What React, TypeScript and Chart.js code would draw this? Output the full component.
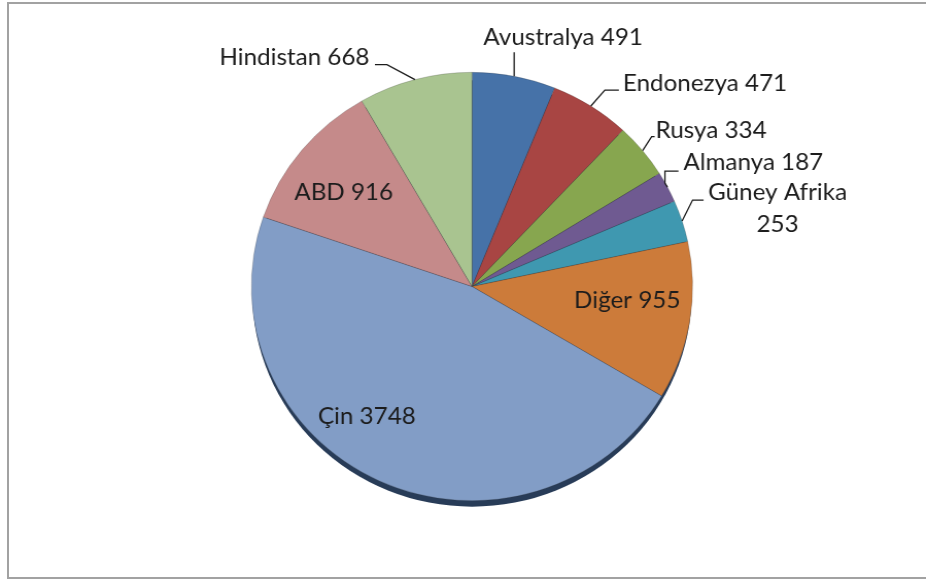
import React, { useEffect, useRef } from "react";
import { Chart, registerables } from "chart.js";

Chart.register(...registerables);

// ---- data ----
const categories = ["Avustralya", "Endonezya", "Rusya", "Almanya", "Güney Afrika", "Diğer", "Çin", "ABD", "Hindistan"];
const values = [491, 471, 334, 187, 253, 955, 3748, 916, 668];
const colors = ["#4672A8", "#A84543", "#87A64F", "#6F5A91", "#3F98B0", "#CC7B3A", "#829DC6", "#C58A8A", "#A9C490"];

// ---- label layout (offsets from the slice's outer edge at its mid angle, in page px) ----
type LabelStyle = {
  dx: number;
  dy: number;
  align: CanvasTextAlign;
  wrap?: boolean;
  leader?: [number, number][];
};
const labelStyles: LabelStyle[] = [
  { dx: 49, dy: -31, align: "center", leader: [[0, -24]] },
  { dx: 32, dy: -15, align: "left", leader: [[14, -16], [28, -16]] },
  { dx: 13, dy: -13, align: "left", leader: [[9, -14], [12, -14]] },
  { dx: 16, dy: -17, align: "left", leader: [[-2.5, -4], [-2.5, -16], [11, -16]] },
  { dx: 95.5, dy: -21, align: "center", wrap: true, leader: [[10.5, -21], [21.5, -21]] },
  { dx: -62.5, dy: -13.3, align: "center" },
  { dx: -12.5, dy: -56.4, align: "center" },
  { dx: 42, dy: 50, align: "center" },
  { dx: -45.5, dy: -14.3, align: "right", leader: [[-28, -15], [-40, -15]] },
];

const K = 1.03; // horizontal stretch of the original picture

const labelPlugin = {
  id: "sliceLabels",
  beforeDatasetsDraw(chart: any) {
    const meta = chart.getDatasetMeta(0);
    const el = meta.data[0];
    if (!el) return;
    const { x, y, outerRadius } = el.getProps(["x", "y", "outerRadius"], true);
    const ctx = chart.ctx;
    ctx.save();
    ctx.beginPath();
    ctx.arc(x, y + 7, outerRadius - 1, 0, Math.PI * 2);
    ctx.fillStyle = "#283c58";
    ctx.fill();
    ctx.restore();
  },
  afterDatasetsDraw(chart: any) {
    const ctx = chart.ctx;
    const meta = chart.getDatasetMeta(0);
    ctx.save();
    ctx.font = "23.5px Lato";
    ctx.fillStyle = "#1c1c1c";
    ctx.strokeStyle = "#1c1c1c";
    ctx.lineWidth = 1.3;
    ctx.textBaseline = "alphabetic";
    meta.data.forEach((el: any, i: number) => {
      const { x, y, startAngle, endAngle, outerRadius } = el.getProps(
        ["x", "y", "startAngle", "endAngle", "outerRadius"],
        true
      );
      const mid = (startAngle + endAngle) / 2;
      const ex = x + outerRadius * Math.cos(mid);
      const ey = y + outerRadius * Math.sin(mid);
      const s = labelStyles[i];
      if (s.leader) {
        ctx.beginPath();
        ctx.moveTo(ex, ey);
        s.leader.forEach(([dx, dy]) => ctx.lineTo(ex + dx / K, ey + dy));
        ctx.stroke();
      }
      const lines = s.wrap ? [categories[i], String(values[i])] : [`${categories[i]} ${values[i]}`];
      ctx.textAlign = s.align;
      lines.forEach((t, j) => ctx.fillText(t, ex + s.dx / K, ey + s.dy + j * 32));
    });
    ctx.restore();
  },
};

export default function App() {
  const ref = useRef<HTMLCanvasElement | null>(null);
  useEffect(() => {
    if (!ref.current) return;
    const chart = new Chart(ref.current, {
      type: "pie",
      data: {
        labels: categories,
        datasets: [
          {
            data: values,
            backgroundColor: colors,
            borderColor: "rgba(40,40,40,0.35)",
            borderWidth: 0.6,
            hoverOffset: 0,
          },
        ],
      },
      options: {
        responsive: false,
        animation: false,
        layout: { padding: { left: 243.75, right: 227.25, top: 72, bottom: 80 } },
        plugins: { legend: { display: false }, tooltip: { enabled: false } },
      },
      plugins: [labelPlugin],
    });
    return () => chart.destroy();
  }, []);

  return (
    <div style={{ position: "fixed", left: 0, top: 0, width: 926, height: 581, overflow: "hidden", background: "#fff" }}>
      <div
        style={{
          position: "absolute",
          left: 7,
          top: 2,
          width: 980,
          height: 577,
          boxSizing: "border-box",
          border: "2px solid #a2a2a2",
        }}
      />
      <div style={{ position: "absolute", left: 0, top: 0, width: 900, height: 581, transform: `scaleX(${K})`, transformOrigin: "0 0" }}>
        <canvas ref={ref} width={900} height={581} style={{ display: "block" }} />
      </div>
    </div>
  );
}
